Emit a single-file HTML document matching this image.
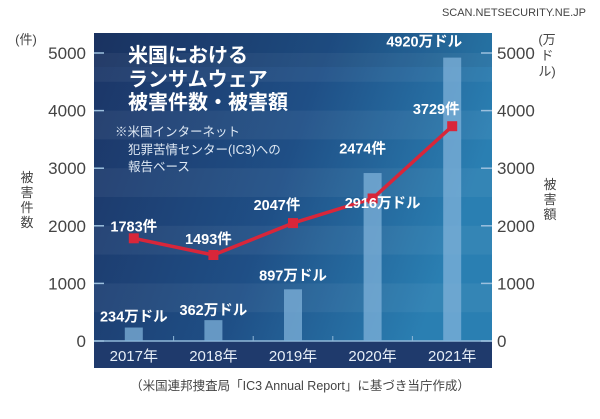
<!DOCTYPE html>
<html><head><meta charset="utf-8">
<style>
html,body{margin:0;padding:0;background:#fff;}
body{width:600px;height:414px;overflow:hidden;font-family:"Liberation Sans","Noto Sans CJK JP",sans-serif;}
svg text{font-family:"Liberation Sans","Noto Sans CJK JP",sans-serif;}
</style></head>
<body>
<svg id="chart" width="600" height="414" viewBox="0 0 600 414" xmlns="http://www.w3.org/2000/svg">
<defs>
<linearGradient id="bg" x1="0" y1="0" x2="1" y2="0.3">
<stop offset="0" stop-color="#1c3566"/>
<stop offset="0.55" stop-color="#1f4f86"/>
<stop offset="1" stop-color="#2a7fb2"/>
</linearGradient>
</defs>
<text x="586" y="16" text-anchor="end" font-size="11" fill="#444">SCAN.NETSECURITY.NE.JP</text>
<rect x="94" y="33" width="398" height="335" fill="url(#bg)"/>
<g id="stripes"></g>
<rect x="94" y="341" width="398" height="27" fill="#1f3a6c"/>
<line x1="94" y1="341" x2="492" y2="341" stroke="#8fb7d8" stroke-width="1.5"/>
<g id="bars"></g><g id="line"></g><g id="axes"></g><g id="labels"></g>
<g fill="#fff" font-weight="bold" font-size="20">
<text x="128" y="62">米国における</text>
<text x="128" y="86">ランサムウェア</text>
<text x="128" y="109">被害件数・被害額</text>
</g>
<g fill="#dfe9f4" font-size="12.5">
<text x="115" y="136">※米国インターネット</text>
<text x="128" y="154">犯罪苦情センター(IC3)への</text>
<text x="128" y="171">報告ベース</text>
</g>
<text x="26" y="44" font-size="13" fill="#444" text-anchor="middle">(件)</text>
<g font-size="13" fill="#444" text-anchor="middle">
<text x="27" y="182">被</text><text x="27" y="197">害</text><text x="27" y="212">件</text><text x="27" y="227">数</text>
</g>
<g font-size="13" fill="#444" text-anchor="middle">
<text x="547" y="44">(万</text><text x="547" y="60">ド</text><text x="547" y="76">ル)</text>
</g>
<g font-size="13" fill="#444" text-anchor="middle">
<text x="550" y="189">被</text><text x="550" y="204">害</text><text x="550" y="219">額</text>
</g>
<text x="300" y="390" text-anchor="middle" font-size="12.5" fill="#444">（米国連邦捜査局「IC3 Annual Report」に基づき当庁作成）</text>
</svg>
<script>
const categories=["2017年","2018年","2019年","2020年","2021年"];
const damageValues=[234,362,897,2916,4920];
const caseValues=[1783,1493,2047,2474,3729];
const damageLabels=["234万ドル","362万ドル","897万ドル","2916万ドル","4920万ドル"];
const caseLabels=["1783件","1493件","2047件","2474件","3729件"];
const yTicks=[0,1000,2000,3000,4000,5000];

const NS="http://www.w3.org/2000/svg";
const x0=94,x1=492,y0=341,y5=53,maxV=5000;
function xs(i){return x0+(x1-x0)/categories.length*(i+0.5);}
function ys(v){return y0-(y0-y5)*v/maxV;}
function mk(tag,attrs,parent,txt){const e=document.createElementNS(NS,tag);for(const k in attrs)e.setAttribute(k,attrs[k]);if(txt!==undefined)e.textContent=txt;parent.appendChild(e);return e;}
const g=id=>document.getElementById(id);

for(let k=0;k<10;k++){
  const v1=k*500,v2=v1+500;
  if(k%2===1){const r=mk("rect",{x:x0,y:ys(v2),width:x1-x0,height:ys(v1)-ys(v2),fill:"#ffffff","fill-opacity":"0.05"},g("stripes"));
  
  }
}
const topBand=mk("rect",{x:x0,y:33,width:x1-x0,height:ys(5000)-33+14,fill:"#000","fill-opacity":"0.05"},g("stripes"));



yTicks.forEach(v=>{
  const y=ys(v);
  const l=mk("line",{x1:x0,y1:y,x2:x0+10,y2:y,stroke:"#9cc0de","stroke-width":1.5},g("axes"));
  
  
  const r=mk("line",{x1:x1-11,y1:y,x2:x1,y2:y,stroke:"#9cc0de","stroke-width":1.5},g("axes"));
  
  
  const t=mk("text",{x:86,y:y+6,"text-anchor":"end","font-size":17,fill:"#444"},g("axes"),String(v));
  
  
  const t2=mk("text",{x:497,y:y+6,"text-anchor":"start","font-size":17,fill:"#444"},g("axes"),String(v));
  
  
});
categories.forEach((c,i)=>{
  const t=mk("text",{x:xs(i),y:361,"text-anchor":"middle","font-size":15,fill:"#e6eef7"},g("axes"),c);
  
  
  if(i>0){const m=mk("line",{x1:(xs(i-1)+xs(i))/2,y1:y0-5,x2:(xs(i-1)+xs(i))/2,y2:y0,stroke:"#8fb7d8"},g("axes"));
  
  }
});

damageValues.forEach((v,i)=>{
  const b=mk("rect",{x:xs(i)-9,y:ys(v),width:18,height:y0-ys(v),fill:"#7fb2da","fill-opacity":"0.75"},g("bars"));
  
  
});
const pts=caseValues.map((v,i)=>xs(i)+","+ys(v)).join(" ");
const pl=mk("polyline",{points:pts,fill:"none",stroke:"#d8263a","stroke-width":3.5,"stroke-linejoin":"round"},g("line"));


caseValues.forEach((v,i)=>{
  const p=mk("rect",{x:xs(i)-5,y:ys(v)-5,width:10,height:10,fill:"#d8263a"},g("line"));
  
  
});
const caseOff=[[0,-7],[-5,-11],[-16,-13],[-10,-45],[-16,-12]];
const dmgOff=[[0,-6],[0,-5],[0,-9],[10,35],[-28,-11]];
caseLabels.forEach((s,i)=>{
  const t=mk("text",{x:xs(i)+caseOff[i][0],y:ys(caseValues[i])+caseOff[i][1],"text-anchor":"middle","font-size":14.5,"font-weight":"bold",fill:"#fff"},g("labels"),s);
  
  
});
damageLabels.forEach((s,i)=>{
  const t=mk("text",{x:xs(i)+dmgOff[i][0],y:ys(damageValues[i])+dmgOff[i][1],"text-anchor":"middle","font-size":14.5,"font-weight":"bold",fill:"#fff"},g("labels"),s);
  
  
});
</script>
</body></html>
